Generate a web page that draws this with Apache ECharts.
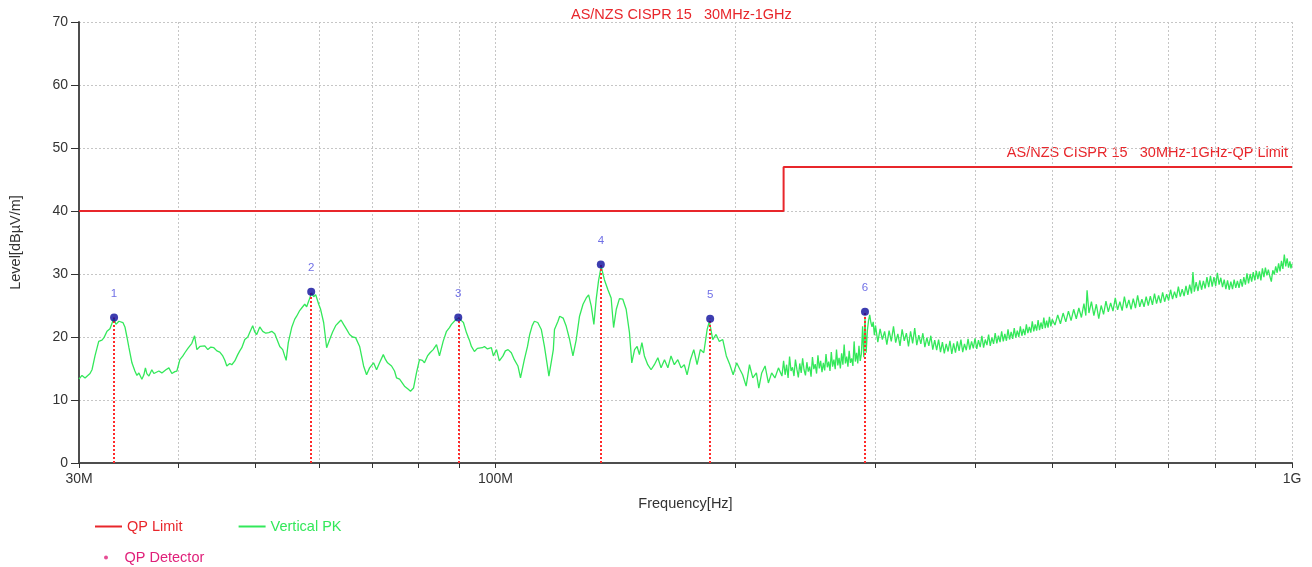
<!DOCTYPE html>
<html><head><meta charset="utf-8">
<script src="https://cdn.jsdelivr.net/npm/echarts@6/dist/echarts.min.js"></script>
<style>html,body{margin:0;padding:0;background:#fff}#c{width:1312px;height:567px}</style>
</head><body><div id="c"></div>
<script>
// ---- data (frequency in MHz, level in dBµV/m) ----
const chartTitle = 'AS/NZS CISPR 15   30MHz-1GHz';
const limitName = 'AS/NZS CISPR 15   30MHz-1GHz-QP Limit';
const limitFreq = [30, 230, 230, 1000];
const limitLevel = [40, 40, 47, 47];
const qpFreq = [33.2, 58.7, 89.8, 135.6, 186.0, 291.0];
const qpLevel = [23.1, 27.2, 23.1, 31.5, 22.9, 24.0];
const qpLabels = ['1', '2', '3', '4', '5', '6'];
const xTickValues = [30,40,50,60,70,80,90,100,200,300,400,500,600,700,800,900,1000];
const xLabelValues = [30, 100, 1000];
const xLabelText = ['30M', '100M', '1G'];
const yTickLabels = [0,10,20,30,40,50,60,70];

const pkTraceA = [[30.00,13.3],[30.26,13.9],[30.53,13.5],[30.70,13.7],[30.97,14.2],[31.15,14.8],[31.42,17.0],[31.76,19.3],[32.06,19.5],[32.25,19.9],[32.53,20.9],[32.81,21.3],[33.00,21.5],[33.19,23.0],[33.38,22.0],[33.67,22.5],[33.86,22.8],[34.06,22.3],[34.26,21.6],[34.46,20.0],[34.66,18.3],[34.96,15.9],[35.26,14.6],[35.47,13.9],[35.67,14.3],[35.98,13.3],[36.19,14.0],[36.35,15.1],[36.50,14.2],[36.72,13.8],[37.03,14.8],[37.25,14.2],[37.46,14.0],[37.79,14.6],[38.12,14.3],[38.34,14.2],[38.57,14.8],[38.90,15.1],[39.24,14.2],[39.58,14.5],[39.81,14.6],[40.16,16.4],[40.51,17.0],[40.74,17.5],[41.10,18.2],[41.33,18.3],[41.57,19.0],[41.90,20.2],[42.18,18.0],[42.55,18.5],[42.79,18.3],[43.16,18.6],[43.54,18.0],[43.92,18.4],[44.30,18.3],[44.69,17.8],[45.07,17.6],[45.46,17.0],[45.73,16.3],[45.99,15.4],[46.39,15.8],[46.66,15.6],[47.07,16.2],[47.47,17.2],[47.75,17.8],[48.03,18.3],[48.45,19.6],[48.87,20.0],[49.14,20.7],[49.57,21.8],[49.86,20.8],[50.15,20.4],[50.59,21.6],[51.03,20.9],[51.48,20.6],[51.93,20.7],[52.37,20.9],[52.83,20.5],[53.13,20.4],[53.60,18.5],[54.06,18.0],[54.37,17.0],[54.60,16.3],[54.94,19.1],[55.48,21.5],[55.96,22.8],[56.28,23.3],[56.78,24.2],[57.11,24.6],[57.61,25.2],[57.94,24.8],[58.28,25.7],[58.61,26.6],[58.78,27.0],[59.12,26.4],[59.47,26.7],[59.99,25.2],[60.32,24.4],[60.85,22.3],[61.38,18.3],[61.92,19.6],[62.45,20.8],[63.00,21.8],[63.54,22.3],[63.99,22.7],[64.46,22.0],[65.03,21.2],[65.59,20.4],[66.16,20.0],[66.74,19.9],[67.03,20.2],[67.52,18.5],[67.90,17.0],[68.30,15.4],[68.89,14.0],[69.49,15.1],[69.89,15.2],[70.30,15.9],[70.91,14.8],[71.53,15.9],[72.30,17.2],[72.78,16.4],[73.20,15.9],[74.05,15.4],[74.69,14.6],[75.13,13.5],[75.79,13.3],[76.21,13.0],[76.87,12.2],[77.72,11.7],[78.22,11.4],[78.56,11.1],[78.90,11.9],[79.58,14.3],[80.28,16.4],[80.97,16.3],[81.44,15.9],[82.16,17.0],[82.76,17.5],[83.52,18.0],[84.33,18.8],[85.05,17.0],[85.96,19.3],[86.80,20.9],[87.54,21.5],[88.05,22.0],[89.08,22.7],[89.86,23.0],[90.62,22.6],[91.15,22.3],[91.94,20.7],[92.74,19.5],[93.28,18.5],[94.09,17.7],[94.91,18.2],[95.46,18.0],[96.29,18.3],[96.85,18.5],[97.70,18.1],[98.25,18.0],[98.82,18.3],[99.39,17.0],[100.30,18.0]];

const pkTraceB = [[101.12,16.2],[102.2,17.0],[102.9,17.8],[103.7,18.0],[104.69,17.5],[105.6,16.4],[106.7,15.4],[107.5,13.5],[108.7,16.4],[109.7,18.5],[110.4,20.4],[111.2,21.8],[111.9,22.5],[113.0,22.3],[114.16,21.2],[115.2,18.5],[116.0,16.0],[116.7,13.8],[117.5,16.0],[118.2,18.0],[118.6,21.2],[119.8,22.5],[120.4,23.3],[121.6,23.0],[122.7,21.7],[123.9,19.6],[125.1,17.0],[126.3,19.6],[127.5,23.3],[128.8,25.2],[130.0,26.2],[130.9,26.7],[131.9,24.9],[132.9,22.0],[133.8,26.0],[134.7,28.9],[135.74,31.2],[137.0,29.1],[138.4,27.5],[139.7,26.2],[140.7,21.5],[141.8,24.4],[143.1,26.1],[144.5,26.0],[145.9,24.4],[147.3,20.7],[148.3,15.9],[149.5,18.0],[150.6,18.5],[151.6,17.2],[152.7,19.1],[153.8,17.0],[155.3,15.6],[156.8,14.8],[158.3,15.6],[159.9,16.7],[161.4,15.1],[163.0,16.4],[164.6,15.1],[166.1,17.0],[167.7,15.6],[169.4,16.4],[171.0,15.1],[172.6,15.6],[174.0,14.0],[175.7,16.4],[177.4,18.0],[179.1,15.6],[180.8,18.0],[182.6,17.5],[184.4,21.2],[185.6,22.5],[187.4,19.6],[189.2,20.4],[191.0,19.3],[192.9,19.6],[194.9,17.0],[196.9,15.6],[198.8,14.0],[200.8,15.9],[202.8,14.8],[204.3,14.0],[206.4,12.2],[208.4,15.6],[210.4,13.5],[212.6,14.3],[214.1,11.9],[215.9,14.3],[218.0,15.4],[220.1,12.7],[222.2,14.3],[224.3,13.5],[226.6,15.1],[228.9,13.8]];

const pkTraceC = [[230,16.2],[231,14.0],[232,15.6],[233,13.5],[234,16.9],[235,14.6],[236,15.2],[237,13.8],[238,16.4],[239,14.9],[240,13.6],[241,15.8],[242,14.3],[243,16.6],[244,14.8],[245,13.9],[246,16.0],[247,14.5],[248,15.3],[249,13.7],[250,16.8],[251,14.9],[252,15.7],[253,14.2],[254,17.1],[255,15.0],[256,16.2],[257,14.4],[258,15.9],[259,14.7],[260,17.3],[261,15.2],[262,16.1],[263,14.6],[264,17.6],[265,15.3],[266,16.4],[267,14.9],[268,18.0],[269,15.5],[270,16.7],[271,15.0],[272,17.4],[273,15.6],[274,18.8],[275,15.8],[276,16.9],[277,15.3],[278,17.8],[279,15.9],[280,16.6],[281,15.4],[282,19.3],[283,16.1],[284,17.5],[285,15.8],[286,18.6],[287,16.2],[288,17.3],[289,21.7],[290,16.8],[291,23.2],[292,17.5],[293,21.0],[294,22.6],[295,23.5],[296,22.3],[297,21.6],[298,22.4],[299,20.3],[300,21.8]];

const pkTraceD = [[302,19.2],[304,21.3],[306,19.6],[308,20.9],[310,18.8],[312,21.0],[314,19.3],[316,21.7],[318,19.1],[320,20.5],[322,18.6],[324,21.2],[326,19.4],[328,20.6],[330,18.5],[332,20.9],[334,19.0],[336,21.4],[338,18.7],[340,20.3],[342,18.9],[344,20.6],[346,18.4],[348,19.9],[350,18.6],[352,20.2],[354,18.0],[356,19.5],[358,17.9],[360,19.6],[362,17.6],[364,19.2],[366,17.4],[368,18.9],[370,17.7],[372,19.4],[374,17.3],[376,19.0],[378,17.5],[380,19.3],[382,17.8],[384,19.6],[386,17.6],[388,18.9],[390,17.9],[392,19.7],[394,18.0],[396,19.3],[398,18.2],[400,19.8],[402,18.1],[404,19.5],[406,18.4],[408,20.2],[410,18.3],[412,19.6],[414,18.7],[416,20.4],[418,18.6],[420,19.9],[422,18.9],[424,20.6],[426,19.0],[428,20.2],[430,19.2],[432,20.9],[434,19.3],[436,20.5],[438,19.4],[440,21.2],[442,19.6],[444,20.8],[446,19.7],[448,21.4],[450,19.9],[452,21.0],[454,20.0],[456,21.7],[458,20.2],[460,21.3],[462,20.3],[464,22.0],[466,20.6],[468,21.6],[470,20.7],[472,22.5],[474,20.9],[476,22.0],[478,21.0],[480,22.7],[482,21.1],[484,22.3],[486,21.3],[488,23.1],[490,21.4],[492,22.6],[494,21.5],[496,23.2],[498,21.7],[500,22.8]];

const pkTraceE = [[504,21.9],[508,23.5],[512,22.1],[516,23.8],[520,22.4],[524,24.1],[528,22.6],[532,24.4],[536,22.9],[540,24.6],[544,23.1],[548,25.3],[551,23.4],[553,27.4],[556,23.8],[560,25.6],[564,23.4],[568,25.2],[572,22.9],[576,25.0],[580,23.6],[584,25.7],[588,24.0],[592,25.4],[596,24.1],[600,26.2],[604,24.3],[608,25.6],[612,24.2],[616,26.4],[620,24.6],[624,25.9],[628,24.4],[632,26.1],[636,24.6],[640,26.6],[644,24.8],[648,26.0],[652,24.8],[656,26.4],[660,25.0],[664,26.5],[668,25.1],[672,26.9],[676,25.3],[680,26.6],[684,25.4],[688,27.1],[692,25.6],[696,26.8],[700,25.8],[704,27.5],[708,26.0],[712,27.2],[716,26.2],[720,28.0],[724,26.4],[728,27.6],[732,26.5],[736,28.1],[740,26.7],[744,28.3],[748,26.9],[751,30.3],[754,27.2],[758,28.7],[762,27.3],[766,29.0],[770,27.5],[774,28.9],[778,27.7],[782,29.5],[786,27.9],[790,29.7],[794,28.0],[798,29.5],[802,28.1],[806,30.2],[810,28.3],[814,29.4],[818,27.9],[822,29.1],[826,27.6],[830,29.0],[834,27.5],[838,28.8],[842,27.6],[846,29.1],[850,27.8],[854,28.9],[858,27.8],[862,29.2],[866,28.0],[870,29.5],[874,28.3],[878,30.1],[882,28.5],[886,30.0],[890,28.8],[894,30.3],[898,29.0],[902,30.5],[906,29.2],[910,30.4],[914,29.0],[918,30.9],[922,29.5],[926,31.0],[930,29.8],[934,30.7],[938,29.6],[942,28.8],[946,30.6],[950,29.9],[954,31.2],[958,30.2],[962,31.7],[966,30.4],[970,32.1],[974,30.8],[978,33.1],[982,31.2],[986,32.5],[990,31.0],[994,32.0],[997,30.9],[1000,31.6]];

// ---- styles ----
const FONT = 'Arial, "Liberation Sans", sans-serif';
const RED = '#e8262b';
const GREEN = '#33e85a';
const GRID_LINE = {color: '#c6c6c6', type: [2, 2], width: 1};

const chart = echarts.init(document.getElementById('c'), null, {renderer: 'canvas'});
const pkData = pkTraceA.concat(pkTraceB, pkTraceC, pkTraceD, pkTraceE);
const limitData = limitFreq.map((f, i) => [f, limitLevel[i]]);
const qpData = qpFreq.map((f, i) => [f, qpLevel[i]]);

chart.setOption({
  animation: false,
  backgroundColor: '#fff',
  textStyle: {fontFamily: FONT},
  grid: {left: 77, right: 20, top: 22, bottom: 104, containLabel: false},
  graphic: [
    {type: 'text', left: 571, top: 7,
     style: {text: chartTitle, fill: RED, font: '14.5px ' + FONT}},
    {type: 'text', right: 24, top: 145,
     style: {text: limitName, fill: RED, font: '14.5px ' + FONT}}
  ],
  legend: [
    {left: 90, top: 514, itemWidth: 27, itemHeight: 2, itemGap: 56, icon: 'rect',
     textStyle: {fontSize: 14.5, fontFamily: FONT},
     data: [
       {name: 'QP Limit', icon: 'rect', itemStyle: {color: RED}, textStyle: {color: RED}},
       {name: 'Vertical PK', icon: 'rect', itemStyle: {color: GREEN}, textStyle: {color: GREEN}}
     ]},
    {left: 99, top: 545, itemWidth: 27, itemHeight: 4,
     textStyle: {fontSize: 14.5, fontFamily: FONT},
     data: [
       {name: 'QP Detector', icon: 'circle', itemStyle: {color: '#e0207a'}, textStyle: {color: '#e0207a'}}
     ]}
  ],
  xAxis: {
    type: 'log', logBase: 10, min: 30, max: 1000,
    name: 'Frequency[Hz]', nameLocation: 'middle', nameGap: 33,
    nameTextStyle: {fontSize: 14.5, color: '#333', fontFamily: FONT},
    axisLine: {show: true, onZero: false, lineStyle: {color: '#4d4d4d', width: 2}},
    axisTick: {show: true, customValues: xTickValues, length: 5, lineStyle: {color: '#333'}},
    axisLabel: {customValues: xLabelValues, fontSize: 14, color: '#333', margin: 9,
      formatter: v => { const i = xLabelValues.findIndex(x => Math.abs(x - v) < 1e-6); return i >= 0 ? xLabelText[i] : ''; }},
    splitLine: {show: true, lineStyle: GRID_LINE},
    minorTick: {show: false}
  },
  yAxis: {
    type: 'value', min: yTickLabels[0], max: yTickLabels[yTickLabels.length - 1], interval: 10,
    name: 'Level[dBµV/m]', nameLocation: 'middle', nameGap: 56, nameRotate: 90,
    nameTextStyle: {fontSize: 14.5, color: '#333', fontFamily: FONT},
    axisLine: {show: true, lineStyle: {color: '#4d4d4d', width: 2}},
    axisTick: {show: true, length: 8, lineStyle: {color: '#333'}},
    axisLabel: {fontSize: 14, color: '#333', margin: 11},
    splitLine: {show: true, lineStyle: GRID_LINE}
  },
  series: [
    {name: 'QP Limit', type: 'line', data: limitData, symbol: 'none', z: 4,
     lineStyle: {color: RED, width: 2}, itemStyle: {color: RED}},
    {name: 'Vertical PK', type: 'line', data: pkData, symbol: 'none', z: 3,
     lineStyle: {color: GREEN, width: 1.3}, itemStyle: {color: GREEN}},
    {name: 'QP Detector', type: 'scatter', data: qpData, symbol: 'circle', symbolSize: 8, z: 6,
     itemStyle: {color: '#0c0c9c'},
     label: {show: true, position: 'top', distance: 14, color: '#4b4be0', fontSize: 11.5, fontFamily: FONT,
       formatter: p => qpLabels[p.dataIndex]},
     markLine: {silent: true, symbol: ['none', 'none'], animation: false,
       label: {show: false},
       lineStyle: {color: '#ff2a2a', type: [2, 2], width: 2},
       data: qpFreq.map((f, i) => [{coord: [f, 0]}, {coord: [f, qpLevel[i]]}])}}
  ]
});
</script></body></html>
